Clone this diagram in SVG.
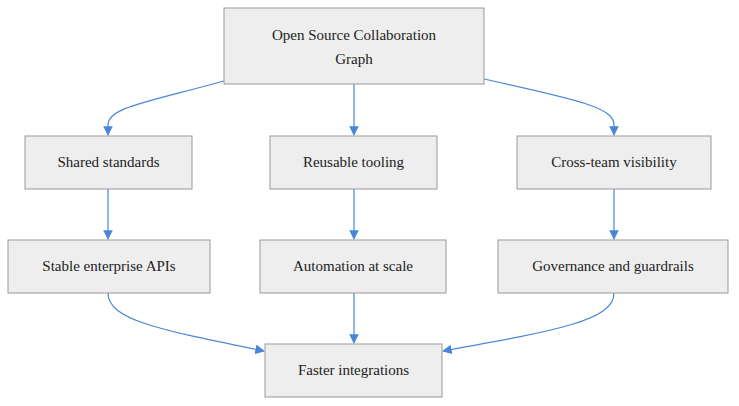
<svg xmlns="http://www.w3.org/2000/svg" width="739" height="406" viewBox="0 0 739 406">
<style>
.n rect{fill:#eeeeee;stroke:#999999;stroke-width:1}
.n text{font-family:"Liberation Serif",serif;font-size:15px;fill:#222;text-anchor:middle;dominant-baseline:central}
.e path{fill:none;stroke:#4a86d8;stroke-width:1.2;marker-end:url(#a)}
</style>
<defs><marker id="a" viewBox="0 0 10 10" refX="9" refY="5" markerWidth="8" markerHeight="8" orient="auto"><path d="M0,0L10,5L0,10z" fill="#4a86d8"/></marker></defs>
<g class="e">
<path d="M224,81 C140,104 108,108 108,125 L108,135"/>
<path d="M354,84 L354,135"/>
<path d="M484,79 C580,100 614,108 614,125 L614,135"/>
<path d="M108,189 L108,239"/>
<path d="M354,189 L354,239"/>
<path d="M614,189 L614,239"/>
<path d="M108,293 C108,320 160,330 264,351"/>
<path d="M354,293 L354,343"/>
<path d="M614,293 C614,320 560,330 443,351"/>
</g>
<g id="top" class="n"><rect x="224" y="8" width="260" height="76"/><text x="354" y="35">Open Source Collaboration</text><text x="354" y="59">Graph</text></g>
<g id="shared" class="n"><rect x="25" y="136" width="167" height="53"/><text x="108.5" y="162">Shared standards</text></g>
<g id="tooling" class="n"><rect x="270" y="136" width="167" height="53"/><text x="353.5" y="162">Reusable tooling</text></g>
<g id="visibility" class="n"><rect x="517" y="136" width="194" height="53"/><text x="614" y="162">Cross-team visibility</text></g>
<g id="apis" class="n"><rect x="8" y="240" width="202" height="53"/><text x="109" y="266">Stable enterprise APIs</text></g>
<g id="automation" class="n"><rect x="260" y="240" width="186" height="53"/><text x="353" y="266">Automation at scale</text></g>
<g id="governance" class="n"><rect x="498" y="240" width="230" height="53"/><text x="613" y="266">Governance and guardrails</text></g>
<g id="faster" class="n"><rect x="265" y="344" width="177" height="53"/><text x="353.5" y="370">Faster integrations</text></g>
</svg>
